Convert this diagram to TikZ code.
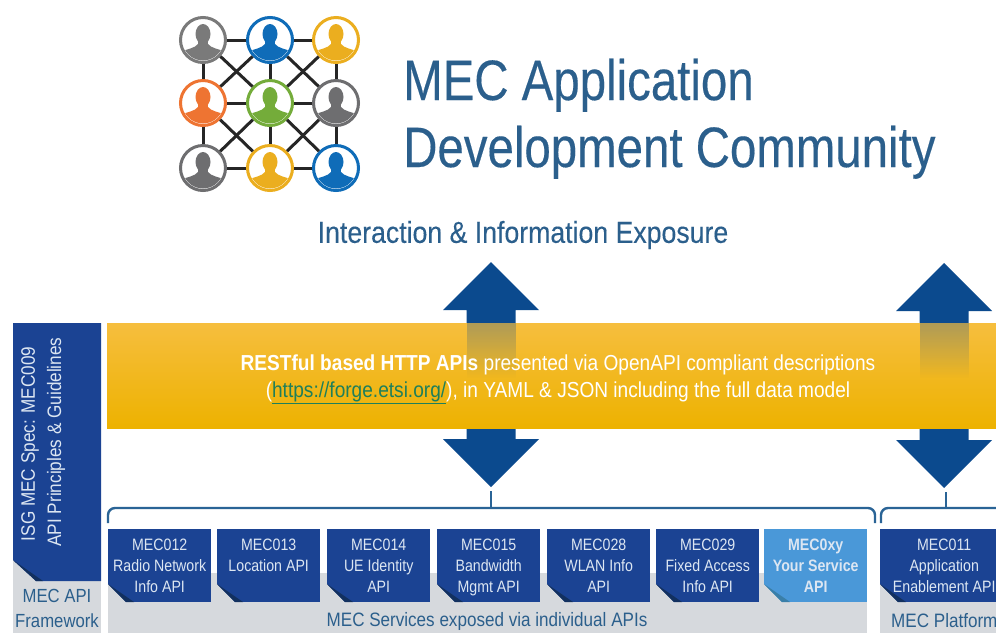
\documentclass[tikz,border=0pt]{standalone}
\usepackage{fontspec}
\usetikzlibrary{fadings}
\setmainfont{Liberation Sans}
\newfontfamily\narrowf[FakeStretch=0.88]{Liberation Sans}
\newfontfamily\boxf[FakeStretch=0.86]{Liberation Sans}
\newfontfamily\titlef[FakeStretch=0.832,FakeBold=0.25]{Liberation Sans}
\newfontfamily\subf[FakeStretch=0.88,FakeBold=0.2]{Liberation Sans}
\definecolor{boxblue}{HTML}{1B4393}
\definecolor{foldblue}{HTML}{12305F}
\definecolor{lightblue}{HTML}{4A98D8}
\definecolor{foldlight}{HTML}{3A7FA8}
\definecolor{arrowblue}{HTML}{0B4A8E}
\definecolor{graybg}{HTML}{D6D9DD}
\definecolor{titleblue}{HTML}{2B5F8C}
\definecolor{bracec}{HTML}{2A6496}
\definecolor{boxtext}{HTML}{DCE6F2}
\definecolor{gline}{HTML}{7A7A7A}
\definecolor{pblue}{HTML}{0F6CB8}
\definecolor{pgold}{HTML}{EBAE1F}
\definecolor{porange}{HTML}{EE7432}
\definecolor{pgreen}{HTML}{74AC3A}
\definecolor{pgray}{HTML}{6E6E70}
\definecolor{bandtop}{HTML}{F6BE3E}
\definecolor{bandmid}{HTML}{F9BE10}
\definecolor{bandbot}{HTML}{EDB200}
\definecolor{linkc}{HTML}{1E7F5A}
\tikzset{
  apibox/.style={fill=boxblue,text=boxtext,minimum height=73pt,inner sep=0pt,align=center,
    font=\boxf\fontsize{16.5}{21}\selectfont},
  graylabel/.style={text=titleblue,inner sep=0pt,font=\narrowf\fontsize{19.4}{25}\selectfont,align=center},
  bandtext/.style={text=white,inner sep=0pt,font=\narrowf\fontsize{21.7}{28}\selectfont},
  sidetext/.style={text=boxtext,inner sep=0pt,rotate=90,font=\narrowf\fontsize{19.5}{24}\selectfont},
  titletext/.style={text=titleblue,inner sep=0pt,anchor=base west,font=\titlef\fontsize{57}{60}\selectfont},
  persona/.style={circle,fill=white,draw=#1,line width=3pt,minimum size=45pt,inner sep=0pt},
  netline/.style={draw=black!85,line width=3pt},
  bracel/.style={draw=bracec,line width=2.4pt,rounded corners=7pt},
  tickl/.style={draw=bracec,line width=2.4pt},
  stemghost/.style={fill=arrowblue,fill opacity=0.3,path fading=south},
}
\newcommand{\persona}[4]{%
  \node[persona=#4] (#1) at (#2,#3) {};
  \begin{scope}
    \clip (#2,#3) circle (20.5pt);
    \fill[#4] (#2,#3-6) ellipse (7.5pt and 10pt);
    \fill[#4] (#2-5,#3) rectangle (#2+5,#3+8);
    \fill[#4] (#2-24,#3+24) -- (#2-24,#3+12) .. controls (#2-15,#3+9) and (#2-8,#3+8) .. (#2-5,#3+4)
       -- (#2+5,#3+4) .. controls (#2+8,#3+8) and (#2+15,#3+9) .. (#2+24,#3+12) -- (#2+24,#3+24) -- cycle;
  \end{scope}}
\newcommand{\apibox}[6]{% name, x0, x1, fill, fold, text
  \node[apibox,fill=#4,minimum width=#3pt-#2pt,anchor=north west] (#1) at (#2,529) {\rule{0pt}{18pt}#6\strut};
  \fill[graybg] (#2,584) -- (#2,602.2) -- (#2+18,602.2) -- cycle;
  \fill[#5] (#2,584) -- (#2+18,602) -- (#2+26,602) -- cycle;
}
\newcommand{\blockup}[2]{%
  \fill[arrowblue] (#1,#2) -- (#1+48,#2+48) -- (#1+24.5,#2+48) -- (#1+24.5,#2+62) -- (#1-24.5,#2+62) -- (#1-24.5,#2+48) -- (#1-48,#2+48) -- cycle;}
\newcommand{\blockdown}[2]{%
  \fill[arrowblue] (#1,#2) -- (#1+48,#2-48) -- (#1+24.5,#2-48) -- (#1+24.5,#2-60) -- (#1-24.5,#2-60) -- (#1-24.5,#2-48) -- (#1-48,#2-48) -- cycle;}
\begin{document}
\begin{tikzpicture}[x=1pt,y=-1pt]
\useasboundingbox (0,0) rectangle (996,633);
\fill[white] (0,0) rectangle (996,633);

% logo
\persona{na}{203}{40}{gline}
\persona{nb}{270}{40}{pblue}
\persona{nc}{336}{40}{pgold}
\persona{nd}{203}{103}{porange}
\persona{ne}{270}{103}{pgreen}
\persona{nf}{336}{103}{pgray}
\persona{ng}{203}{168}{pgray}
\persona{nh}{270}{168}{pgold}
\persona{ni}{336}{168}{pblue}
\foreach \p/\q in {na/nb,nb/nc,nd/ne,ne/nf,ng/nh,nh/ni,na/nd,nd/ng,nb/ne,ne/nh,nc/nf,nf/ni,
   na/ne,nb/nd,nb/nf,nc/ne,nd/nh,ne/ng,ne/ni,nf/nh}
  \draw[netline] (\p) -- (\q);

% title
\node[titletext] (t1) at (403,100) {MEC Application};
\node[titletext] (t2) at (403,167) {Development Community};
\node[text=titleblue,inner sep=0pt,font=\subf\fontsize{30.3}{32}\selectfont] (t3) at (523,235) {Interaction \& Information Exposure};

% arrows behind the band
\blockup{491}{262}
\blockup{944}{263}
\blockdown{491}{487}
\blockdown{944}{488}

% band
\fill[top color=bandtop,middle color=bandmid,bottom color=bandbot] (107,323) rectangle (996,428);
\path[stemghost] (466.5,323) rectangle (515.5,378);
\path[stemghost] (919.5,323) rectangle (968.5,378);
\node[bandtext] (b1) at (558,365) {\textbf{RESTful based HTTP APIs} presented via OpenAPI compliant descriptions};
\node[bandtext] (b2) at (558,393) {(\textcolor{linkc}{\underline{https://forge.etsi.org/}}), in YAML \& JSON including the full data model};

% gray strips
\fill[graybg] (13,560) rectangle (101,633);
\fill[graybg] (108,573) rectangle (867,633);
\fill[graybg] (880,573) rectangle (996,633);

% left framework box
\fill[boxblue] (13,323) -- (101,323) -- (101,581) -- (36,581) -- (13,560) -- cycle;
\fill[foldblue] (13,560) -- (36,581) -- (43,581) -- cycle;
\node[sidetext] (s1) at (30,444) {ISG MEC Spec: MEC009};
\node[sidetext] (s2) at (56,442) {API Principles \& Guidelines};
\node[graylabel,font=\narrowf\fontsize{19}{25}\selectfont] (f1) at (57,608) {MEC API\\Framework};

% braces
\coordinate (bl) at (108,523);
\coordinate (br) at (875,523);
\coordinate (bm) at (491,508);
\coordinate (bt) at (491,491);
\coordinate (cl) at (881,523);
\coordinate (cr) at (996,508);
\coordinate (cm) at (946,508);
\coordinate (ct) at (946,492);
\draw[bracel] (bl) |- (bm) -| (br);
\draw[bracel] (cl) |- (cr);
\draw[tickl] (bt) -- (bm);
\draw[tickl] (ct) -- (cm);

% API boxes
\apibox{m12}{108}{211}{boxblue}{foldblue}{MEC012\\Radio Network\\Info API}
\apibox{m13}{217}{320}{boxblue}{foldblue}{MEC013\\Location API\\}
\apibox{m14}{327}{430}{boxblue}{foldblue}{MEC014\\UE Identity\\API}
\apibox{m15}{437}{540}{boxblue}{foldblue}{MEC015\\Bandwidth\\Mgmt API}
\apibox{m28}{547}{650}{boxblue}{foldblue}{MEC028\\WLAN Info\\API}
\apibox{m29}{656}{759}{boxblue}{foldblue}{MEC029\\Fixed Access\\Info API}
\apibox{m0x}{764}{867}{lightblue}{foldlight}{\textbf{MEC0xy}\\\textbf{Your Service}\\\textbf{API}}
\apibox{m11}{880}{1008}{boxblue}{foldblue}{MEC011\\Application\\Enablement API}

\node[graylabel] (l1) at (487,621) {MEC Services exposed via individual APIs};
\node[graylabel,anchor=west] (l2) at (891,621) {MEC Platform};
\end{tikzpicture}
\end{document}
